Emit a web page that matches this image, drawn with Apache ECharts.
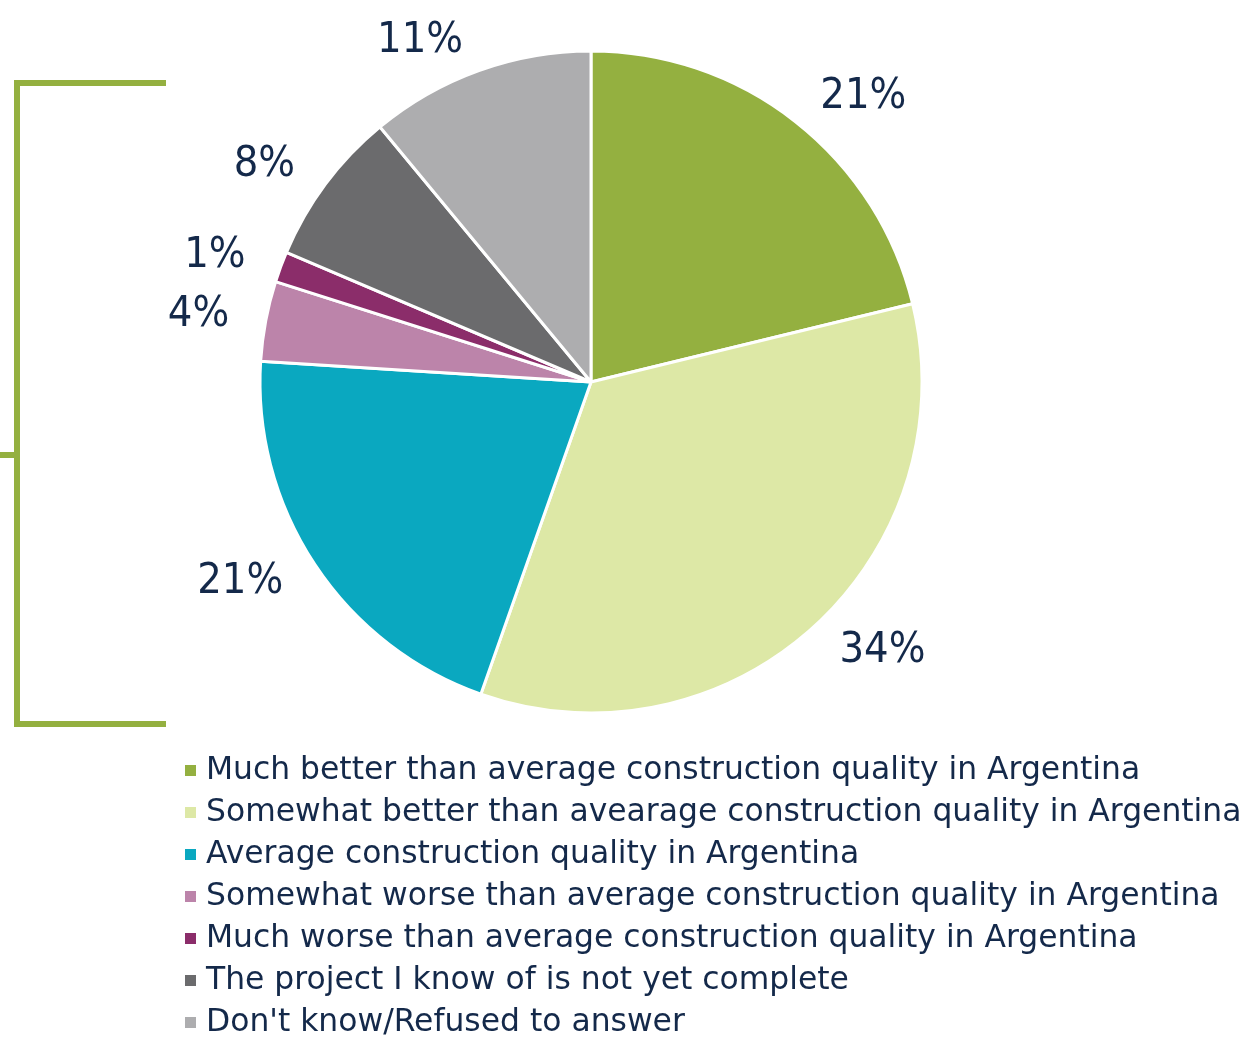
<!DOCTYPE html>
<html>
<head>
<meta charset="utf-8">
<script src="https://cdn.jsdelivr.net/npm/echarts@6/dist/echarts.min.js"></script>
<style>
    html, body {margin: 0; padding: 0; background: #fff;}
    #chart {width: 1255px; height: 1037px;}
</style>
</head>
<body>
<div id="chart"></div>
<script>
    // answers, clockwise from the top
    var categories = [
        'Much better than average construction quality in Argentina',
        'Somewhat better than avearage construction quality in Argentina',
        'Average construction quality in Argentina',
        'Somewhat worse than average construction quality in Argentina',
        'Much worse than average construction quality in Argentina',
        'The project I know of is not yet complete',
        "Don't know/Refused to answer"
    ];
    var shares = [21.2, 34.2, 20.6, 3.9, 1.5, 7.6, 11.0];
    var shareLabels = ['21%', '34%', '21%', '4%', '1%', '8%', '11%'];
    var colors = ['#94b040', '#dde8a6', '#0aa8c0', '#bc84aa', '#8b2d6a', '#6b6b6d', '#adadaf'];

    var textColor = '#14294a';

    var myChart = echarts.init(document.getElementById('chart'));
    var option = {
        animation: false,
        color: colors,
        legend: {
            orient: 'vertical',
            left: 178,
            top: 750,
            height: 300,
            icon: 'rect',
            itemWidth: 13,
            itemHeight: 13,
            itemGap: 11,
            selectedMode: false,
            textStyle: {
                color: textColor, fontSize: 31.4, lineHeight: 30,
                fontFamily: '"DejaVu Sans", sans-serif', padding: [0, 0, 0, 4]
            },
            data: categories
        },
        graphic: [
            {
                type: 'polyline',
                shape: {points: [[166, 83], [17, 83], [17, 724], [166, 724]]},
                style: {stroke: '#94b040', lineWidth: 6, fill: null}
            },
            {
                type: 'line',
                shape: {x1: 0, y1: 455, x2: 17, y2: 455},
                style: {stroke: '#94b040', lineWidth: 6}
            }
        ],
        series: [
            {
                type: 'pie',
                center: [591, 382],
                radius: 331,
                startAngle: 90,
                clockwise: true,
                itemStyle: {borderColor: '#fff', borderWidth: 3},
                label: {
                    show: true,
                    position: 'outside',
                    color: textColor,
                    fontSize: 43,
                    fontFamily: '"DejaVu Sans Condensed", "DejaVu Sans", sans-serif',
                    formatter: function (p) {
                        return shareLabels[p.dataIndex];
                    }
                },
                labelLine: {show: false, length: 32, length2: 0},
                data: categories.map(function (name, i) {
                    return {name: name, value: shares[i]};
                })
            }
        ]
    };
    myChart.setOption(option);
</script>
</body>
</html>
